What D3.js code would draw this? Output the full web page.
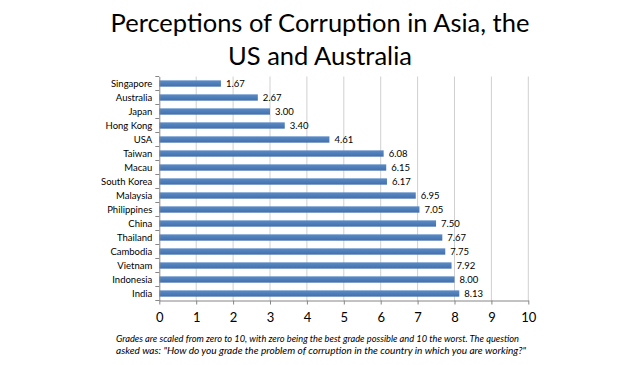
<!DOCTYPE html>
<html><head><meta charset="utf-8">
<script src="https://cdn.jsdelivr.net/npm/d3@7"></script>
<style>body{margin:0;background:#fff}svg{display:block}</style>
</head><body><svg id="c" width="640" height="365"></svg>
<script>
const categories = ["Singapore","Australia","Japan","Hong Kong","USA","Taiwan","Macau","South Korea","Malaysia","Philippines","China","Thailand","Cambodia","Vietnam","Indonesia","India"];
const values = [1.67,2.67,3.00,3.40,4.61,6.08,6.15,6.17,6.95,7.05,7.50,7.67,7.75,7.92,8.00,8.13];
const xTicks = [0,1,2,3,4,5,6,7,8,9,10];
const titleLines = ["Perceptions of Corruption in Asia, the","US and Australia"];
const noteLines = ["Grades are scaled from zero to 10, with zero being the best grade possible and 10 the worst.  The question",
 "asked was: \"How do you grade the problem of corruption in the country in which you are working?\""];

const font = "Lato, 'Open Sans', sans-serif";
const svg = d3.select("#c");
const L = 159.3, R = 528.3, T = 76.5, B = 300.5;
const x = d3.scaleLinear().domain([0,10]).range([L,R]);
const y = d3.scaleBand().domain(categories).range([T,B]).paddingInner(0.55).paddingOuter(0.275);

// title
svg.append("g").selectAll("text").data(titleLines).join("text")
  .attr("x",320).attr("y",(d,i)=>32+i*33).attr("text-anchor","middle")
  .attr("font-family",font).attr("font-size",25.5).attr("fill","#000").text(d=>d);

// gridlines
svg.append("g").selectAll("line").data(xTicks.slice(1)).join("line")
  .attr("x1",d=>x(d)).attr("x2",d=>x(d)).attr("y1",T).attr("y2",B)
  .attr("stroke","#d0d0d0").attr("stroke-width",1);

// bars
const grad = svg.append("defs").append("linearGradient").attr("id","bg").attr("x1",0).attr("x2",0).attr("y1",0).attr("y2",1);
grad.append("stop").attr("offset","0%").attr("stop-color","#5b8cc8");
grad.append("stop").attr("offset","100%").attr("stop-color","#416fab");
svg.append("g").selectAll("rect").data(values).join("rect")
  .attr("x",L).attr("y",(d,i)=>y(categories[i]))
  .attr("width",d=>x(d)-L).attr("height",y.bandwidth())
  .attr("fill","url(#bg)");

// value labels
svg.append("g").selectAll("text").data(values).join("text")
  .attr("x",d=>x(d)+5).attr("y",(d,i)=>y(categories[i])+y.bandwidth()/2+3.5)
  .attr("font-family",font).attr("font-size",9.5).attr("fill","#000").text(d=>d.toFixed(2));

// x axis
const xa = svg.append("g").attr("transform",`translate(0,${B})`)
  .call(d3.axisBottom(x).tickValues(xTicks).tickSize(4).tickSizeOuter(0).tickFormat(d3.format("d")));
xa.select(".domain").attr("stroke","#868686");
xa.selectAll(".tick line").attr("stroke","#868686");
xa.selectAll("text").attr("font-family",font).attr("font-size",13).attr("fill","#000").attr("dy","1.15em");

// y axis
const ya = svg.append("g").attr("transform",`translate(${L},0)`)
  .call(d3.axisLeft(y).tickSize(0).tickPadding(7));
ya.select(".domain").attr("stroke","#868686");
ya.selectAll("text").attr("font-family",font).attr("font-size",9.5).attr("fill","#000");
// band boundary ticks
const bounds = d3.range(categories.length+1).map(i=>T + i*y.step());
svg.append("g").selectAll("line").data(bounds).join("line")
  .attr("x1",L-4).attr("x2",L).attr("y1",d=>d).attr("y2",d=>d)
  .attr("stroke","#868686");

// footnote
svg.append("g").selectAll("text").data(noteLines).join("text")
  .attr("x",116).attr("y",(d,i)=>342+i*12)
  .attr("font-family",font).attr("font-size",9).attr("font-style","italic").attr("fill","#000")
  .attr("textLength",(d,i)=>i==0?403:410).attr("lengthAdjust","spacingAndGlyphs")
  .text(d=>d);
</script></body></html>
